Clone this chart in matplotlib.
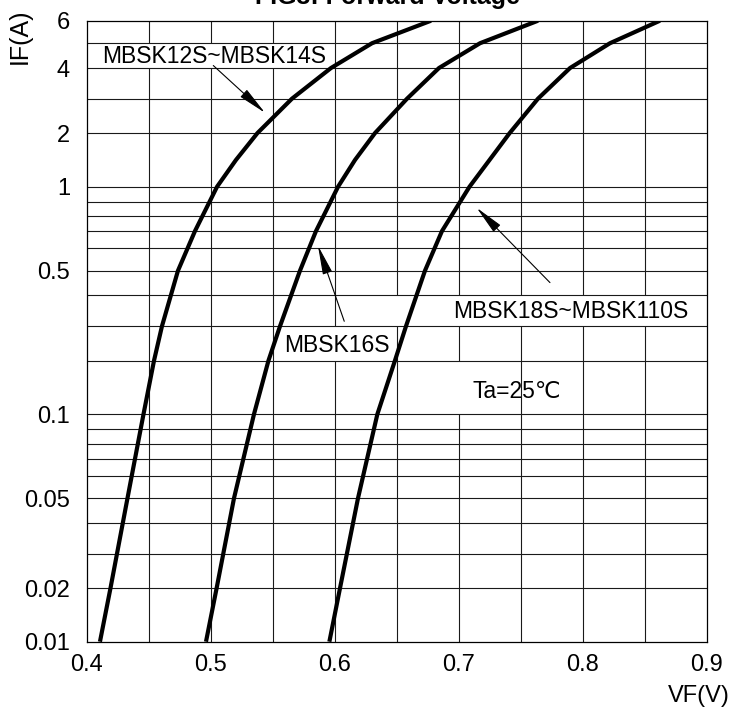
import numpy as np
import matplotlib
matplotlib.use('Agg')
import matplotlib.pyplot as plt
from matplotlib.patches import Rectangle
from matplotlib.ticker import NullLocator

plt.rcParams['font.family'] = ['Liberation Sans', 'DejaVu Sans', 'Noto Sans CJK SC']

# forward current (A) and forward voltage (V) of the three curves
if_a = [0.01, 0.02, 0.05, 0.1, 0.2, 0.3, 0.5, 0.7, 1, 1.5, 2, 3, 4, 5, 6]
vf_12_14 = [0.4107, 0.4192, 0.4329, 0.4458, 0.4543, 0.4607, 0.4736, 0.4873,
            0.5051, 0.5204, 0.5377, 0.5655, 0.5970, 0.6301, 0.6777]
vf_16 = [0.4962, 0.5048, 0.5188, 0.5349, 0.5466, 0.5559, 0.5720, 0.5849,
         0.6027, 0.6164, 0.6325, 0.6583, 0.6841, 0.7172, 0.7640]
vf_18_110 = [0.5957, 0.6043, 0.6188, 0.6344, 0.6486, 0.6575, 0.6728, 0.6865,
             0.7087, 0.7249, 0.7411, 0.7639, 0.7898, 0.8220, 0.8623]

x_ticks = [0.4, 0.5, 0.6, 0.7, 0.8, 0.9]
y_ticks = [0.01, 0.02, 0.05, 0.1, 0.5, 1, 2, 4, 6]
y_labels = ['0.01', '0.02', '0.05', '0.1', '0.5', '1', '2', '4', '6']

# the printed grid is not a true log grid: position of 1..10 inside a decade
MANT = np.arange(1, 11)
FRAC = np.array([0, 0.236, 0.387, 0.522, 0.631, 0.730, 0.805, 0.871, 0.933, 1.0])


def fwd(v):
    v = np.clip(np.asarray(v, dtype=float), 1e-12, None)
    d = np.floor(np.log10(v) + 1e-9)
    return d + np.interp(v / 10 ** d, MANT, FRAC)


def inv(p):
    p = np.asarray(p, dtype=float)
    d = np.floor(p)
    return np.interp(p - d, FRAC, MANT) * 10 ** d


fig = plt.figure(figsize=(7.35, 7.11), dpi=100)
ax = fig.add_axes([86.7 / 735, 1 - 641.7 / 711, 620 / 735, 621 / 711])
ax.set_yscale('function', functions=(fwd, inv))
ax.set_xlim(0.4, 0.9)
ax.set_ylim(0.01, 6)

# grid: horizontal lines over the label boxes, vertical lines under them
grid_y = [m * 10.0 ** d for d in (-2, -1, 0) for m in range(1, 10)]
grid_y = [g for g in grid_y if 0.01 < g < 6]
grid_x = [0.4 + 0.05 * i for i in range(1, 10)]
ax.hlines(grid_y, 0.4, 0.9, colors='#1a1a1a', lw=0.8, zorder=3)
ax.vlines(grid_x, 0.01, 6, colors='#1a1a1a', lw=0.8, zorder=1)

# white boxes behind the labels
boxes = [(0.4065, 4, 0.5995, 5), (0.5535, 0.2, 0.6465, 0.3),
         (0.6455, 0.3, 0.9, 0.4), (0.6515, 0.1, 0.7425, 0.2)]
for x0, y0, x1, y1 in boxes:
    ax.add_patch(Rectangle((x0, y0), x1 - x0, y1 - y0, facecolor='white',
                           edgecolor='none', zorder=2))

for vf in (vf_12_14, vf_16, vf_18_110):
    ax.plot(vf, if_a, color='black', lw=3.0, zorder=5,
            solid_capstyle='butt', solid_joinstyle='round')

fs = 16.5
ax.text(0.5024, 4.47, 'MBSK12S~MBSK14S', ha='center', va='center',
        fontsize=fs, zorder=4)
ax.text(0.6015, 0.245, 'MBSK16S', ha='center', va='center',
        fontsize=fs, zorder=4)
ax.text(0.7906, 0.348, 'MBSK18S~MBSK110S', ha='center', va='center',
        fontsize=fs, zorder=4)
ax.text(0.7467, 0.142, 'Ta=25℃', ha='center', va='center',
        fontsize=fs, zorder=4)

arrow = dict(arrowstyle='-|>,head_length=1.8,head_width=0.3', lw=0.8,
             color='black', shrinkA=0, shrinkB=0, mutation_scale=10)
ax.annotate('', xy=(0.5438, 2.59), xytext=(0.5021, 4.1), arrowprops=arrow,
            zorder=6)
ax.annotate('', xy=(0.5865, 0.615), xytext=(0.6077, 0.316), arrowprops=arrow,
            zorder=6)
ax.annotate('', xy=(0.7145, 0.859), xytext=(0.7736, 0.452), arrowprops=arrow,
            zorder=6)

ax.set_xticks(x_ticks)
ax.set_xticklabels([str(t) for t in x_ticks])
ax.set_yticks(y_ticks)
ax.set_yticklabels(y_labels)
ax.yaxis.set_minor_locator(NullLocator())
ax.xaxis.set_minor_locator(NullLocator())
ax.tick_params(axis='x', length=0, pad=9, labelsize=17)
ax.tick_params(axis='y', length=0, pad=12, labelsize=17)
for s in ax.spines.values():
    s.set_linewidth(0.9)
    s.set_zorder(7)

fig.text(0.527, 1 - 4 / 711, 'FIG3: Forward Voltage', ha='center',
         va='baseline', fontsize=18, fontweight='bold')
fig.text(20 / 735, 1 - 36 / 711, 'IF(A)', rotation=90, ha='center',
         va='center', fontsize=18)
fig.text(730 / 735, 1 - 696 / 711, 'VF(V)', ha='right', va='center',
         fontsize=17)

fig.savefig('out.png', dpi=100)
